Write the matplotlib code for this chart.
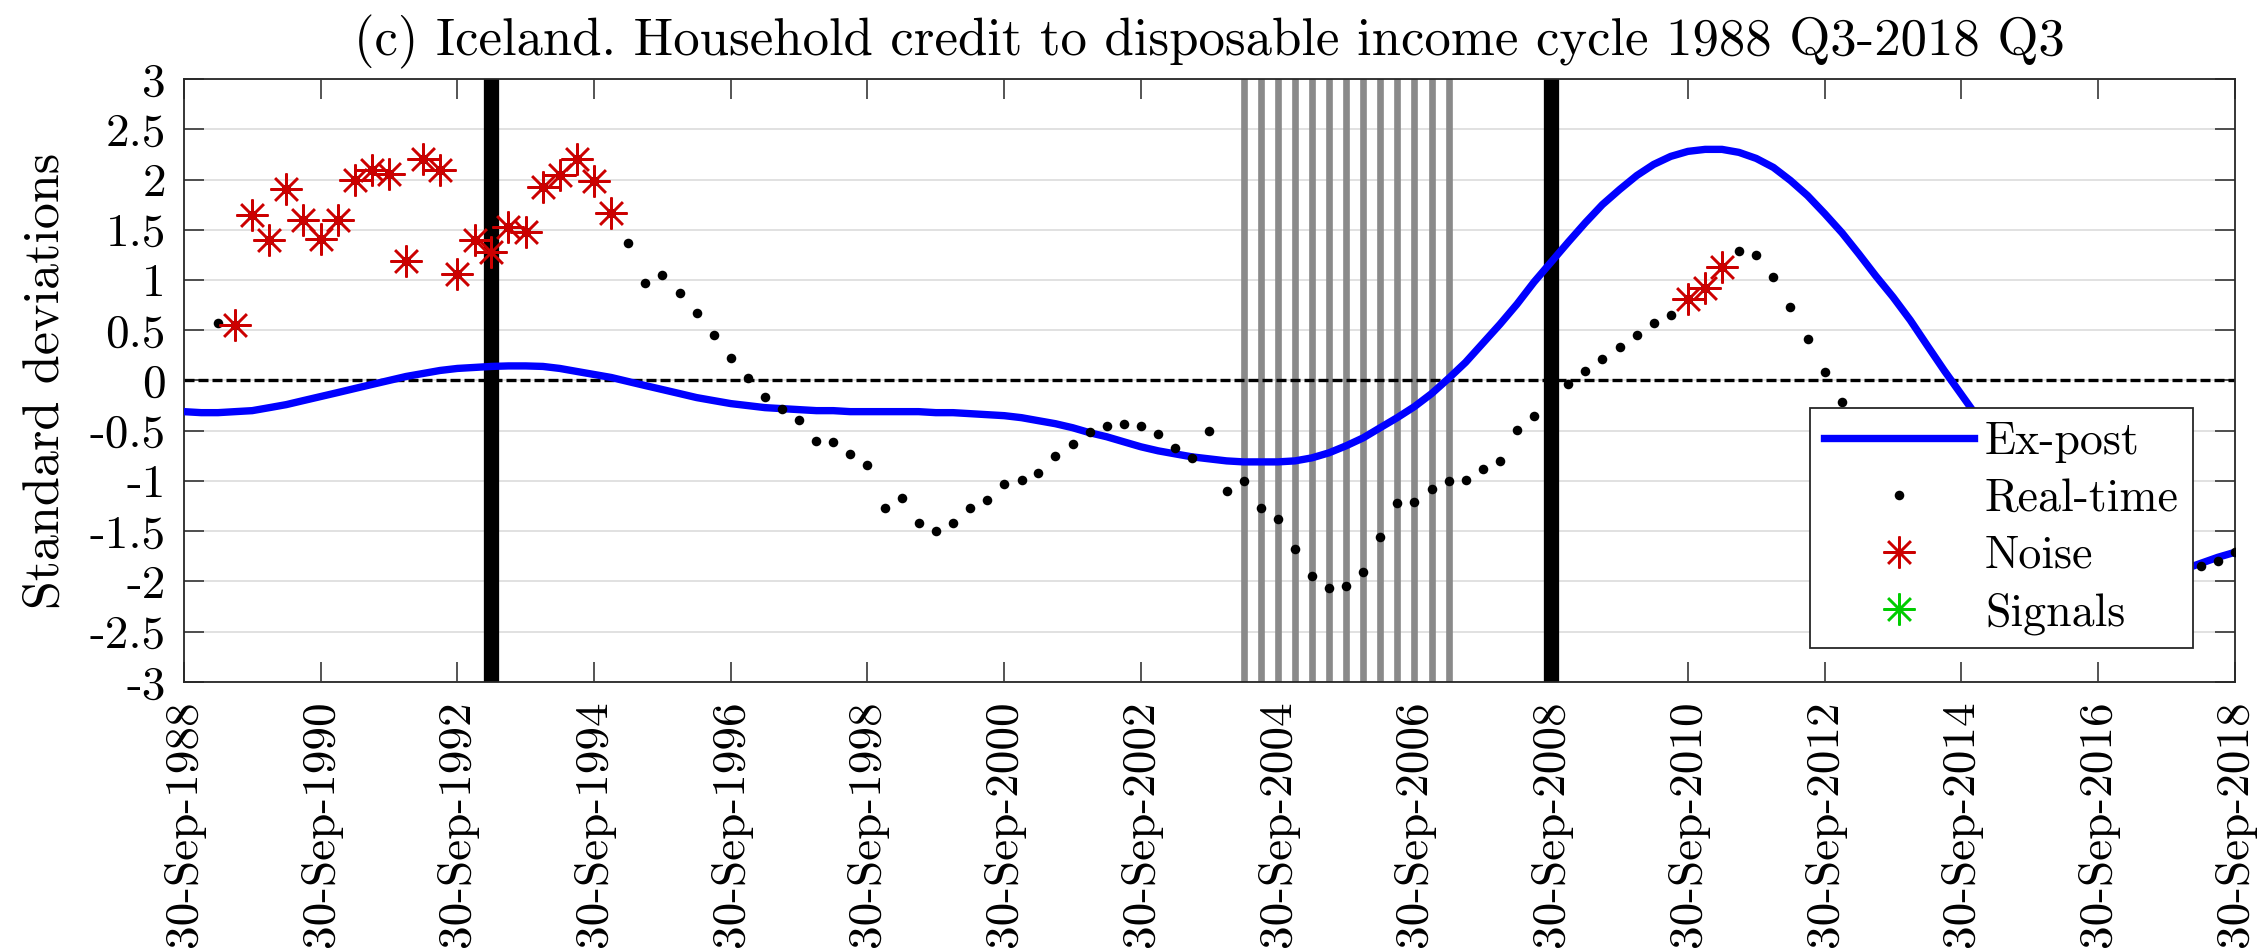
import matplotlib
matplotlib.use("Agg")
import matplotlib.pyplot as plt
import numpy as np
import pandas as pd

plt.rcParams["font.family"] = "cmr10"
plt.rcParams["mathtext.fontset"] = "cm"
plt.rcParams["axes.unicode_minus"] = False
plt.rcParams["axes.formatter.use_mathtext"] = True

# quarterly sample, 1988Q3 .. 2018Q3
first_quarter = "1988Q3"
last_quarter = "2018Q3"

# ex-post (two-sided) cycle, one value per quarter from 1988Q3
ex_post = [
    -0.31, -0.32,
    -0.32, -0.31, -0.30, -0.27,
    -0.24, -0.20, -0.16, -0.12,
    -0.08, -0.04, 0.00, 0.04,
    0.07, 0.10, 0.12, 0.13,
    0.14, 0.145, 0.145, 0.14,
    0.12, 0.09, 0.06, 0.03,
    -0.01, -0.05, -0.09, -0.13,
    -0.17, -0.20, -0.23, -0.25,
    -0.27, -0.28, -0.29, -0.30,
    -0.30, -0.31, -0.31, -0.31,
    -0.31, -0.31, -0.32, -0.32,
    -0.33, -0.34, -0.35, -0.37,
    -0.40, -0.43, -0.47, -0.52,
    -0.56, -0.61, -0.66, -0.70,
    -0.73, -0.76, -0.78, -0.80,
    -0.81, -0.81, -0.81, -0.80,
    -0.77, -0.72, -0.65, -0.57,
    -0.47, -0.37, -0.26, -0.13,
    0.02, 0.18, 0.37, 0.56,
    0.76, 0.98, 1.18, 1.38,
    1.57, 1.75, 1.90, 2.04,
    2.15, 2.23, 2.28, 2.30,
    2.30, 2.27, 2.21, 2.12,
    1.99, 1.84, 1.66, 1.47,
    1.26, 1.04, 0.83, 0.60,
    0.35, 0.10, -0.14, -0.38,
    -0.62, -0.85, -1.06, -1.26,
    -1.44, -1.60, -1.73, -1.83,
    -1.90, -1.93, -1.92, -1.88,
    -1.82, -1.76, -1.71,
]

# real-time (one-sided) estimates, one value per quarter from 1989Q1
real_time_start = "1989Q1"
real_time = [
    0.57, 0.55, 1.65, 1.40,
    1.91, 1.60, 1.41, 1.60,
    2.00, 2.09, 2.05, 1.19,
    2.20, 2.09, 1.06, 1.40,
    1.28, 1.53, 1.48, 1.93,
    2.04, 2.20, 1.99, 1.67,
    1.37, 0.97, 1.05, 0.87,
    0.67, 0.45, 0.22, 0.02,
    -0.16, -0.28, -0.39, -0.60,
    -0.61, -0.73, -0.84, -1.27,
    -1.17, -1.42, -1.50, -1.42,
    -1.27, -1.19, -1.03, -0.99,
    -0.92, -0.75, -0.63, -0.51,
    -0.45, -0.43, -0.45, -0.53,
    -0.67, -0.77, -0.50, -1.10,
    -1.00, -1.27, -1.38, -1.68,
    -1.95, -2.06, -2.05, -1.91,
    -1.56, -1.22, -1.21, -1.08,
    -1.00, -0.99, -0.88, -0.80,
    -0.49, -0.35, -0.18, -0.03,
    0.09, 0.21, 0.33, 0.45,
    0.57, 0.65, 0.81, 0.92,
    1.13, 1.29, 1.25, 1.03,
    0.73, 0.41, 0.08, -0.21,
    -0.45, -0.68, -0.88, -1.05,
    -1.20, -1.33, -1.45, -1.55,
    -1.63, -1.70, -1.76, -1.80,
    -1.84, -1.87, -1.89, -1.90,
    -1.91, -1.91, -1.90, -1.88,
    -1.85, -1.80, -1.71,
]

# quarters flagged by the warning rule
noise_periods = [("1989Q2", "1994Q4"), ("2010Q3", "2011Q1")]
signal_periods = []

# crisis markers
crisis_quarters = ["1993Q1", "2008Q3"]
stress_period = ("2004Q1", "2007Q1")

tick_years = list(range(1988, 2019, 2))
y_ticks = np.round(np.linspace(-3, 3, 13), 1) + 0.0


def quarter_ends(start, end):
    return pd.period_range(start, end, freq="Q").to_timestamp(how="end").normalize()


dates = quarter_ends(first_quarter, last_quarter)
rt_dates = quarter_ends(real_time_start, last_quarter)
rt = pd.Series(real_time, index=rt_dates)

noise_idx = pd.DatetimeIndex([])
for a, b in noise_periods:
    noise_idx = noise_idx.append(quarter_ends(a, b))
signal_idx = pd.DatetimeIndex([])
for a, b in signal_periods:
    signal_idx = signal_idx.append(quarter_ends(a, b))

fig = plt.figure(figsize=(22.62, 9.51), dpi=100)
ax = fig.add_axes([0.0813, 0.2829, 0.9067, 0.634])

for d in quarter_ends(*stress_period):
    ax.axvline(d, color="#8a8a8a", lw=4.8, zorder=1)
for q in crisis_quarters:
    ax.axvline(quarter_ends(q, q)[0], color="black", lw=11, zorder=1)

ax.axhline(0, color="black", lw=2.4, dashes=(3, 1.2), zorder=2)

star = (8, 2, 0)
ax.plot(dates, ex_post, color=(0, 0, 1), lw=5.3, label="Ex-post", zorder=3)
ax.plot(rt.index, rt.values, ls="none", marker="o", ms=6.9, mec="none",
        color="black", label="Real-time", zorder=4)
ax.plot(noise_idx, rt.loc[noise_idx].values, ls="none", marker=star,
        ms=23, mew=1.8, color=(0.8, 0, 0), label="Noise", zorder=5)
ax.plot(signal_idx, rt.reindex(signal_idx).values, ls="none", marker=star,
        ms=23, mew=1.8, color=(0, 0.8, 0), label="Signals", zorder=5)

ax.set_xlim(pd.Timestamp("1988-09-30"), pd.Timestamp("2018-09-30"))
ax.set_ylim(-3, 3)

ax.set_xticks([pd.Timestamp(f"{y}-09-30") for y in tick_years])
ax.set_xticklabels([f"30-Sep-{y}" for y in tick_years], rotation=90)
ax.set_yticks(y_ticks)
ax.set_yticklabels([f"{v:g}" for v in y_ticks])
ax.yaxis.grid(True, color="#dedede", lw=1.3)
ax.set_axisbelow(True)

ax.tick_params(direction="in", length=14.5, width=1.1, color="#262626",
               top=True, right=True, labelsize=34)
ax.tick_params(axis="x", pad=13)
ax.tick_params(axis="y", pad=13)
for s in ax.spines.values():
    s.set_color("#262626")
    s.set_linewidth(1.3)

ax.set_ylabel("Standard deviations", fontsize=37.5)
ax.yaxis.set_label_coords(-0.056, 0.5)
ax.set_title("(c) Iceland. Household credit to disposable income cycle 1988 Q3-2018 Q3",
             fontsize=38, pad=17)

leg = ax.legend(loc="upper left", bbox_to_anchor=(0.7928, 0.4544), borderaxespad=0,
                fontsize=33, fancybox=False, framealpha=1, edgecolor="#262626",
                handlelength=3.27, handletextpad=0.25, labelspacing=0.33,
                borderpad=0.3)
leg.get_frame().set_linewidth(1.3)
leg.set_zorder(10)

fig.savefig("out.png", dpi=100)
